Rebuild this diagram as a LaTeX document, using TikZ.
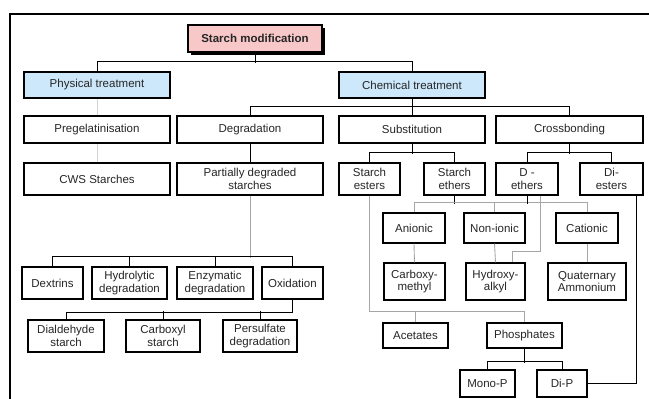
\documentclass[tikz,border=0pt]{standalone}
\usepackage{fontspec}
\setmainfont{Liberation Sans}
\definecolor{pinkfill}{RGB}{248,200,200}
\definecolor{bluefill}{RGB}{204,232,250}
\newcommand\bx[7]{\node[box,minimum width={(#4)-(#2)},minimum height={(#5)-(#3)},#6] (#1) at ({((#2)+(#4))/2},{((#3)+(#5))/2}) {#7};}
\begin{document}
\begin{tikzpicture}[x=1pt,y=-1pt,
  box/.style={draw=black,line width=1.1pt,inner sep=1pt,align=center,fill=white,text=black!85,
    font=\fontsize{11.5}{12.5}\selectfont},
  conn/.style={draw=black,line width=0.9pt},
  faint/.style={draw=gray!35,line width=0.9pt},
  light/.style={draw=gray!70,line width=0.9pt}]
\useasboundingbox (0,0) rectangle (649,399);
\fill[white] (0,0) rectangle (649,399);
% frame
\draw[line width=1.5pt] (10,400) -- (10,14) -- (650,14);
% shadow of root
\fill[black] (190.5,27.5) rectangle (324.5,54.5);
% boxes
\bx{sm}{188}{25}{322}{52}{fill=pinkfill,font=\fontsize{11.5}{12.5}\selectfont\bfseries}{Starch modification}
\bx{pt}{24}{72}{170}{98}{fill=bluefill}{Physical treatment}
\bx{ct}{339}{72}{485}{98}{fill=bluefill}{Chemical treatment}
\bx{pg}{24}{116}{170}{143}{}{Pregelatinisation}
\bx{dg}{177}{116}{323}{143}{}{Degradation}
\bx{sb}{339}{116}{485}{143}{}{Substitution}
\bx{cb}{496}{116}{643}{143}{}{Crossbonding}
\bx{cws}{24}{163}{170}{195}{}{CWS Starches}
\bx{pd}{177}{163}{323}{195}{}{Partially degraded\\starches}
\bx{se}{339}{163}{400}{195}{}{Starch\\esters}
\bx{sth}{424}{163}{485}{195}{}{Starch\\ethers}
\bx{de}{496}{163}{558}{195}{}{D -\\ethers}
\bx{di}{580}{163}{643}{195}{}{Di-\\esters}
\bx{dx}{22}{267}{83}{299}{}{Dextrins}
\bx{hy}{92}{267}{167}{299}{}{Hydrolytic\\degradation}
\bx{en}{177}{267}{253}{299}{}{Enzymatic\\degradation}
\bx{ox}{262}{267}{323}{299}{}{Oxidation}
\bx{da}{28}{320}{104}{352}{}{Dialdehyde\\starch}
\bx{ca}{126}{320}{200}{352}{}{Carboxyl\\starch}
\bx{ps}{223}{320}{297}{352}{}{Persulfate\\degradation}
\bx{an}{383}{213}{445}{243}{}{Anionic}
\bx{ni}{464}{213}{525}{243}{}{Non-ionic}
\bx{cat}{556}{213}{618}{243}{}{Cationic}
\bx{cm}{384}{263}{445}{300}{}{Carboxy-\\methyl}
\bx{ha}{466}{263}{525}{300}{}{Hydroxy-\\alkyl}
\bx{qa}{548}{263}{626}{300}{}{Quaternary\\Ammonium}
\bx{ac}{383}{323}{448}{348}{}{Acetates}
\bx{ph}{487}{323}{562}{348}{}{Phosphates}
\bx{mp}{460}{370}{515}{397}{}{Mono-P}
\bx{dp}{537}{370}{587}{397}{}{Di-P}
% connectors
\draw[conn] (sm.south) -- ++(0,10);
\draw[conn] (pt.north) -- ++(0,-10) -| (ct.north);
\draw[conn] (ct.south) -- (sb.north);
\draw[conn] (dg.north) -- ++(0,-9) -| (cb.north);
\draw[faint] (pt.south) -- (pg.north);
\draw[faint] (pg.south) -- (cws.north);
\draw[conn] (dg.south) -- (pd.north);
\draw[conn] (sb.south) -- ++(0,10);
\draw[conn] (se.north) -- ++(0,-10) -| (sth.north);
\draw[conn] (cb.south) -- ++(0,10);
\draw[conn] (de.north) -- ++(0,-10) -| (di.north);
\draw[light] (pd.south) -- ++(0,62);
\draw[conn] (dx.north) -- ++(0,-10) -| (ox.north);
\draw[conn] (hy.north) -- ++(0,-10);
\draw[conn] (en.north) -- ++(0,-10);
\draw[conn] (ox.south) -- ++(0,13) -| (da.north);
\draw[conn] (ca.north) -- ++(0,-8);
\draw[conn] (ps.north) -- ++(0,-8);
\draw[conn] (sth.south) -- ++(0,8);
\draw[light] (an.north) -- ++(0,-10) -| (cat.north);
\draw[light] (ni.north) -- ++(0,-10);
\draw[conn] (de.south) -- ++(0,8);
\draw[light] ([xshift=13pt]de.south) -- ++(0,56) -| ([xshift=16.5pt]ha.north);
\draw[light] (an.south) -- (cm.north);
\draw[light] (ni.south) -- (ha.north);
\draw[light] (cat.south) -- (qa.north);
\draw[light] (se.south) |- ([yshift=11pt]ph.north) -- (ph.north);
\draw[light] (ac.north) -- ++(0,-11);
\draw[conn] (ph.south) -- ++(0,14);
\draw[conn] (mp.north) -- ++(0,-8) -| (dp.north);
\draw[conn] ([xshift=24.5pt]di.south) |- (dp.east);
\end{tikzpicture}
\end{document}
